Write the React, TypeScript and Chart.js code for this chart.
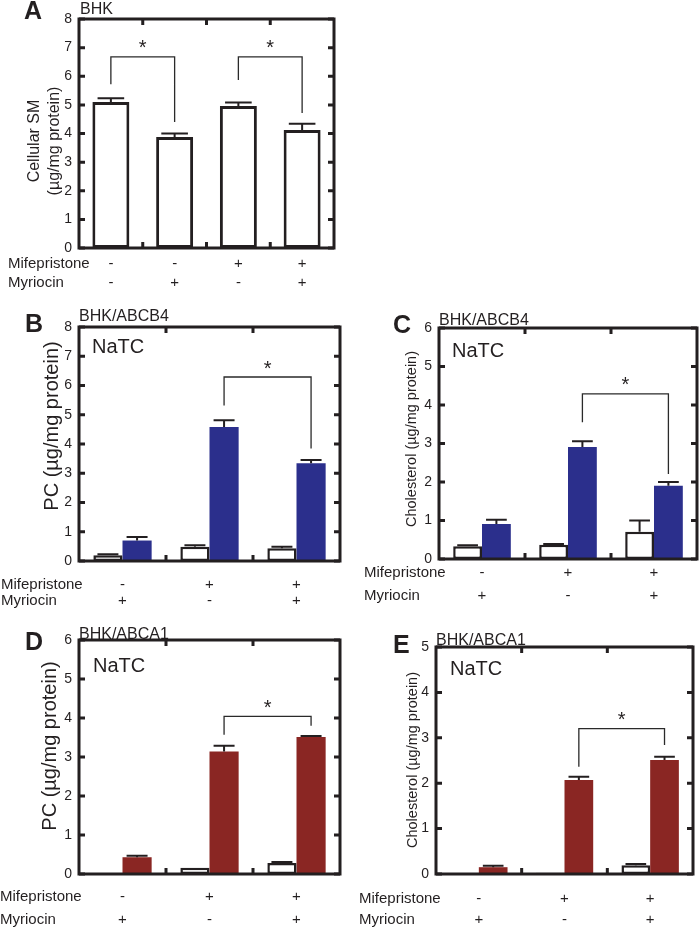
import React, { useEffect, useRef } from 'react';
import { Chart, registerables } from 'chart.js';

Chart.register(...registerables);

const FONT = '"Liberation Sans", Arial, Helvetica, sans-serif';
const INK = '#231f20';
const BLUE = '#2b2f8c';
const RED = '#8a2623';
const WHITE = '#ffffff';

// ---------- data ----------
// Panel A (BHK, cellular SM)
const aMifepristone = ['-', '-', '+', '+'];
const aMyriocin = ['-', '+', '-', '+'];
const aSM = [5.1, 3.88, 4.96, 4.12];
const aSMErr = [0.13, 0.12, 0.12, 0.22];
const aYMax = 8;

// Panels B–E share the treatment layout
const treatMifepristone = ['-', '+', '+'];
const treatMyriocin = ['+', '-', '+'];

// Panel B (BHK/ABCB4, PC)
const bControl = [0.2, 0.49, 0.44];
const bControlErr = [0.03, 0.05, 0.05];
const bABCB4 = [0.7, 4.58, 3.34];
const bABCB4Err = [0.12, 0.23, 0.11];
const bYMax = 8;

// Panel C (BHK/ABCB4, cholesterol)
const cControl = [0.33, 0.37, 0.71];
const cControlErr = [0.03, 0.02, 0.29];
const cABCB4 = [0.91, 2.91, 1.9];
const cABCB4Err = [0.11, 0.15, 0.1];
const cYMax = 6;

// Panel D (BHK/ABCA1, PC)
const dControl = [0, 0.16, 0.28];
const dControlErr = [null, null, 0.03];
const dABCA1 = [0.43, 3.14, 3.51];
const dABCA1Err = [0.04, 0.15, 0.03];
const dYMax = 6;

// Panel E (BHK/ABCA1, cholesterol)
const eControl = [0.02, 0.03, 0.19];
const eControlErr = [null, null, 0.03];
const eABCA1 = [0.15, 2.07, 2.51];
const eABCA1Err = [0.03, 0.07, 0.07];
const eYMax = 5;

// significance brackets: [dataset, index] -> [dataset, index], values in axis units
const aBrackets = [
  { from: [0, 0], to: [0, 1], top: 6.68, left: 5.72, right: 4.4 },
  { from: [0, 2], to: [0, 3], top: 6.68, left: 5.87, right: 4.72 },
];
const bBrackets = [{ from: [1, 1], to: [1, 2], top: 6.29, left: 5.32, right: 3.85 }];
const cBrackets = [{ from: [1, 1], to: [1, 2], top: 4.29, left: 3.55, right: 2.21 }];
const dBrackets = [{ from: [1, 1], to: [1, 2], top: 4.04, left: 3.57, right: 3.8 }];
const eBrackets = [{ from: [1, 1], to: [1, 2], top: 3.2, left: 2.36, right: 2.84 }];

type Series = { values: number[]; errors: (number | null)[]; fill: string; border: number };
type Bracket = { from: number[]; to: number[]; top: number; left: number; right: number };
type PanelCfg = {
  id: string;
  box: { x: number; y: number; w: number; h: number };
  area: { l: number; t: number; r: number; b: number };
  yMax: number;
  mife: string[];
  myr: string[];
  series: Series[];
  barPct: number;
  catPct: number;
  brackets: Bracket[];
  letter: { text: string; x: number; y: number };
  subtitle: { text: string; x: number; y: number };
  natc: { x: number; y: number } | null;
  yTitle: { lines: string[]; xs: number[]; y: number; size: number };
  rowX: number;
  rowY: number[];
};

const panels: PanelCfg[] = [
  {
    id: 'A',
    box: { x: 0, y: 0, w: 350, h: 295 },
    area: { l: 79, t: 19, r: 334, b: 248 },
    yMax: aYMax,
    mife: aMifepristone,
    myr: aMyriocin,
    series: [{ values: aSM, errors: aSMErr, fill: WHITE, border: 3 }],
    barPct: 0.58,
    catPct: 1,
    brackets: aBrackets,
    letter: { text: 'A', x: 24, y: 19 },
    subtitle: { text: 'BHK', x: 80, y: 14 },
    natc: null,
    yTitle: { lines: ['Cellular SM', '(\u00b5g/mg protein)'], xs: [35, 55], y: 141, size: 16 },
    rowX: 8,
    rowY: [264, 283],
  },
  {
    id: 'B',
    box: { x: 0, y: 295, w: 350, h: 317 },
    area: { l: 79, t: 327, r: 340, b: 561 },
    yMax: bYMax,
    mife: treatMifepristone,
    myr: treatMyriocin,
    series: [
      { values: bControl, errors: bControlErr, fill: WHITE, border: 2.5 },
      { values: bABCB4, errors: bABCB4Err, fill: BLUE, border: 0 },
    ],
    barPct: 1,
    catPct: 0.67,
    brackets: bBrackets,
    letter: { text: 'B', x: 25, y: 332 },
    subtitle: { text: 'BHK/ABCB4', x: 79, y: 321 },
    natc: { x: 92, y: 353 },
    yTitle: { lines: ['PC (\u00b5g/mg protein)'], xs: [52], y: 426, size: 20 },
    rowX: 1,
    rowY: [585, 601],
  },
  {
    id: 'C',
    box: { x: 350, y: 295, w: 350, h: 317 },
    area: { l: 439, t: 328, r: 697, b: 559 },
    yMax: cYMax,
    mife: treatMifepristone,
    myr: treatMyriocin,
    series: [
      { values: cControl, errors: cControlErr, fill: WHITE, border: 2.5 },
      { values: cABCB4, errors: cABCB4Err, fill: BLUE, border: 0 },
    ],
    barPct: 1,
    catPct: 0.67,
    brackets: cBrackets,
    letter: { text: 'C', x: 393, y: 333 },
    subtitle: { text: 'BHK/ABCB4', x: 439, y: 325 },
    natc: { x: 452, y: 357 },
    yTitle: { lines: ['Cholesterol (\u00b5g/mg protein)'], xs: [412], y: 439, size: 14.5 },
    rowX: 364,
    rowY: [573, 596],
  },
  {
    id: 'D',
    box: { x: 0, y: 612, w: 350, h: 316 },
    area: { l: 79, t: 640, r: 340, b: 874 },
    yMax: dYMax,
    mife: treatMifepristone,
    myr: treatMyriocin,
    series: [
      { values: dControl, errors: dControlErr, fill: WHITE, border: 2.5 },
      { values: dABCA1, errors: dABCA1Err, fill: RED, border: 0 },
    ],
    barPct: 1,
    catPct: 0.67,
    brackets: dBrackets,
    letter: { text: 'D', x: 25, y: 650 },
    subtitle: { text: 'BHK/ABCA1', x: 79, y: 639 },
    natc: { x: 93, y: 672 },
    yTitle: { lines: ['PC (\u00b5g/mg protein)'], xs: [50], y: 746, size: 20 },
    rowX: 0,
    rowY: [897, 920],
  },
  {
    id: 'E',
    box: { x: 350, y: 612, w: 350, h: 316 },
    area: { l: 436, t: 647, r: 693, b: 874 },
    yMax: eYMax,
    mife: treatMifepristone,
    myr: treatMyriocin,
    series: [
      { values: eControl, errors: eControlErr, fill: WHITE, border: 2.5 },
      { values: eABCA1, errors: eABCA1Err, fill: RED, border: 0 },
    ],
    barPct: 1,
    catPct: 0.67,
    brackets: eBrackets,
    letter: { text: 'E', x: 393, y: 653 },
    subtitle: { text: 'BHK/ABCA1', x: 436, y: 645 },
    natc: { x: 450, y: 675 },
    yTitle: { lines: ['Cholesterol (\u00b5g/mg protein)'], xs: [413], y: 760, size: 14.5 },
    rowX: 359,
    rowY: [899, 920],
  },
];

function Panel({ cfg }: { cfg: PanelCfg }) {
  const ref = useRef<HTMLCanvasElement>(null);
  useEffect(() => {
    const canvas = ref.current!;
    const ox = cfg.box.x;
    const oy = cfg.box.y;
    const L = cfg.area.l - ox;
    const T = cfg.area.t - oy;
    const R = cfg.area.r - ox;
    const B = cfg.area.b - oy;
    const n = cfg.mife.length;
    const labels = cfg.mife.map((m, i) => `${m}/${cfg.myr[i]}`);

    const deco = {
      id: 'deco' + cfg.id,
      afterDatasetsDraw(chart: any) {
        const ctx: CanvasRenderingContext2D = chart.ctx;
        const ca = chart.chartArea;
        const xs = chart.scales.x;
        const ys = chart.scales.y;
        ctx.save();
        // error bars
        cfg.series.forEach((s, d) => {
          const meta = chart.getDatasetMeta(d);
          s.errors.forEach((e, i) => {
            if (e == null) return;
            const bar: any = meta.data[i];
            const x = bar.x;
            const w = bar.width;
            const y0 = ys.getPixelForValue(s.values[i]);
            const y1 = ys.getPixelForValue(s.values[i] + e);
            ctx.strokeStyle = INK;
            ctx.lineWidth = 2;
            ctx.beginPath();
            ctx.moveTo(x, y0);
            ctx.lineTo(x, y1);
            ctx.moveTo(x - w * 0.36, y1);
            ctx.lineTo(x + w * 0.36, y1);
            ctx.stroke();
          });
        });
        // frame
        ctx.strokeStyle = INK;
        ctx.lineWidth = 3;
        ctx.strokeRect(ca.left, ca.top, ca.right - ca.left, ca.bottom - ca.top);
        // inward ticks
        const tl = 6;
        ctx.beginPath();
        ys.ticks.forEach((t: any) => {
          const y = ys.getPixelForValue(t.value);
          ctx.moveTo(ca.left, y);
          ctx.lineTo(ca.left + tl, y);
          ctx.moveTo(ca.right, y);
          ctx.lineTo(ca.right - tl, y);
        });
        for (let i = 1; i < n; i++) {
          const x = xs.getPixelForValue(i - 0.5);
          ctx.moveTo(x, ca.top);
          ctx.lineTo(x, ca.top + tl);
          ctx.moveTo(x, ca.bottom);
          ctx.lineTo(x, ca.bottom - tl);
        }
        ctx.stroke();
        // brackets
        ctx.strokeStyle = '#2a2a2a';
        ctx.lineWidth = 1.3;
        ctx.fillStyle = INK;
        ctx.font = `20px ${FONT}`;
        ctx.textAlign = 'center';
        ctx.textBaseline = 'middle';
        cfg.brackets.forEach((br) => {
          const x1 = (chart.getDatasetMeta(br.from[0]).data[br.from[1]] as any).x;
          const x2 = (chart.getDatasetMeta(br.to[0]).data[br.to[1]] as any).x;
          const yt = ys.getPixelForValue(br.top);
          ctx.beginPath();
          ctx.moveTo(x1, ys.getPixelForValue(br.left));
          ctx.lineTo(x1, yt);
          ctx.lineTo(x2, yt);
          ctx.lineTo(x2, ys.getPixelForValue(br.right));
          ctx.stroke();
          ctx.fillText('*', (x1 + x2) / 2, yt - 8);
        });
        ctx.restore();
      },
      afterDraw(chart: any) {
        const ctx: CanvasRenderingContext2D = chart.ctx;
        const xs = chart.scales.x;
        ctx.save();
        ctx.fillStyle = INK;
        // panel letter
        ctx.font = `bold 25px ${FONT}`;
        ctx.textAlign = 'left';
        ctx.textBaseline = 'alphabetic';
        ctx.fillText(cfg.letter.text, cfg.letter.x - ox, cfg.letter.y - oy);
        // subtitle
        ctx.font = `16px ${FONT}`;
        ctx.fillText(cfg.subtitle.text, cfg.subtitle.x - ox, cfg.subtitle.y - oy);
        // NaTC
        if (cfg.natc) {
          ctx.font = `20px ${FONT}`;
          ctx.fillText('NaTC', cfg.natc.x - ox, cfg.natc.y - oy);
        }
        // y title
        ctx.font = `${cfg.yTitle.size}px ${FONT}`;
        ctx.textAlign = 'center';
        ctx.textBaseline = 'middle';
        cfg.yTitle.lines.forEach((line, k) => {
          ctx.save();
          ctx.translate(cfg.yTitle.xs[k] - ox, cfg.yTitle.y - oy);
          ctx.rotate(-Math.PI / 2);
          ctx.fillText(line, 0, 0);
          ctx.restore();
        });
        // treatment rows
        ctx.font = `15px ${FONT}`;
        ctx.textAlign = 'left';
        ctx.fillText('Mifepristone', cfg.rowX - ox, cfg.rowY[0] - oy);
        ctx.fillText('Myriocin', cfg.rowX - ox, cfg.rowY[1] - oy);
        ctx.textAlign = 'center';
        for (let i = 0; i < n; i++) {
          const x = xs.getPixelForValue(i);
          ctx.fillText(cfg.mife[i], x, cfg.rowY[0] - oy);
          ctx.fillText(cfg.myr[i], x, cfg.rowY[1] - oy);
        }
        ctx.restore();
      },
    };

    const chart = new Chart(canvas, {
      type: 'bar',
      data: {
        labels,
        datasets: cfg.series.map((s) => ({
          data: s.values,
          backgroundColor: s.fill,
          borderColor: s.border > 0 ? INK : s.fill,
          borderWidth: s.border,
          borderSkipped: false as any,
          barPercentage: cfg.barPct,
          categoryPercentage: cfg.catPct,
        })),
      },
      options: {
        responsive: false,
        animation: false,
        devicePixelRatio: 1,
        layout: { padding: { left: 0, top: T, right: cfg.box.w - R, bottom: cfg.box.h - B } },
        plugins: { legend: { display: false }, tooltip: { enabled: false }, title: { display: false } },
        scales: {
          x: { display: false, grid: { display: false } },
          y: {
            min: 0,
            max: cfg.yMax,
            grid: { display: false, drawTicks: false },
            border: { display: false },
            ticks: {
              stepSize: 1,
              padding: 7,
              color: INK,
              font: { family: FONT, size: 14 },
            },
            afterFit: (s: any) => {
              s.width = L;
            },
          },
        },
      },
      plugins: [deco],
    } as any);
    return () => chart.destroy();
  }, [cfg]);

  return (
    <canvas
      ref={ref}
      width={cfg.box.w}
      height={cfg.box.h}
      style={{ position: 'absolute', left: cfg.box.x, top: cfg.box.y, width: cfg.box.w, height: cfg.box.h }}
    />
  );
}

export default function App() {
  return (
    <div style={{ position: 'absolute', left: 0, top: 0, width: 700, height: 928, background: '#ffffff' }}>
      {panels.map((p) => (
        <Panel key={p.id} cfg={p} />
      ))}
    </div>
  );
}
